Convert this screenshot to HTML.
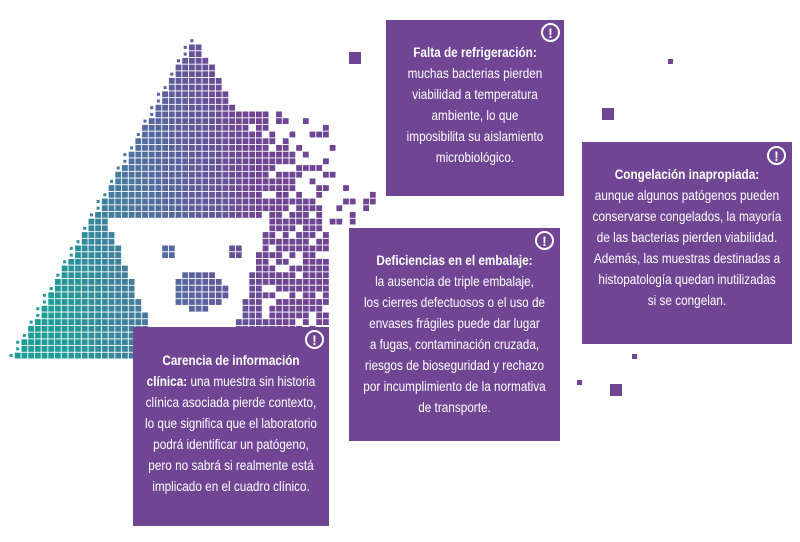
<!DOCTYPE html>
<html><head><meta charset="utf-8"><style>
html,body{margin:0;padding:0;background:#fff;}
body{width:800px;height:542px;position:relative;overflow:hidden;font-family:"Liberation Sans",sans-serif;}
#m{position:absolute;left:0;top:0;}
.b{position:absolute;background:#6f4594;color:#fff;box-sizing:border-box;}
.t{position:absolute;left:0;top:0;text-align:center;font-size:14px;line-height:21px;white-space:nowrap;transform-origin:0 0;transform:scaleX(0.84);}
.b b{font-weight:bold;}
.ex{position:absolute;width:19px;height:19px;border:2px solid #fff;border-radius:50%;box-sizing:border-box;color:#fff;font-weight:bold;font-size:14px;line-height:16px;text-align:center;}
.sq{position:absolute;background:#6f4594;}
</style></head><body>
<svg id="m" width="800" height="542" xmlns="http://www.w3.org/2000/svg"></svg>
<div class="sq" style="left:349px;top:52px;width:12px;height:12px"></div>
<div class="sq" style="left:602px;top:108px;width:12px;height:12px"></div>
<div class="sq" style="left:668px;top:59px;width:5px;height:5px"></div>
<div class="sq" style="left:610px;top:384px;width:12px;height:12px"></div>
<div class="sq" style="left:632px;top:354px;width:5px;height:5px"></div>
<div class="sq" style="left:577px;top:380px;width:5px;height:5px"></div>

<div class="b" style="left:386px;top:20px;width:178px;height:176px;"><div class="t" style="width:211.9px;top:22px"><b>Falta de refrigeración:</b><br>muchas bacterias pierden<br>viabilidad a temperatura<br>ambiente, lo que<br>imposibilita su aislamiento<br>microbiológico.</div><div class="ex" style="left:155px;top:3px">!</div></div>

<div class="b" style="left:582px;top:142px;width:210px;height:202px;"><div class="t" style="width:250px;top:22px"><b>Congelación inapropiada:</b><br>aunque algunos patógenos pueden<br>conservarse congelados, la mayoría<br>de las bacterias pierden viabilidad.<br>Además, las muestras destinadas a<br>histopatología quedan inutilizadas<br>si se congelan.</div><div class="ex" style="left:185px;top:4px">!</div></div>

<div class="b" style="left:349px;top:228px;width:211px;height:213px;"><div class="t" style="width:251.2px;top:22px"><b>Deficiencias en el embalaje:</b><br>la ausencia de triple embalaje,<br>los cierres defectuosos o el uso de<br>envases frágiles puede dar lugar<br>a fugas, contaminación cruzada,<br>riesgos de bioseguridad y rechazo<br>por incumplimiento de la normativa<br>de transporte.</div><div class="ex" style="left:186px;top:3px">!</div></div>

<div class="b" style="left:133px;top:327px;width:196px;height:199px;"><div class="t" style="width:233.3px;top:23px"><b>Carencia de información<br>clínica:</b> una muestra sin historia<br>clínica asociada pierde contexto,<br>lo que significa que el laboratorio<br>podrá identificar un patógeno,<br>pero no sabrá si realmente está<br>implicado en el cuadro clínico.</div><div class="ex" style="left:172px;top:3px">!</div></div>

<script>
(function(){
var s=document.getElementById('m'),out='';
var seed=11;function r(){seed=(seed*16807)%2147483647;return seed/2147483647;}
function col(x,y){var t=(x-60)/220+(330-y)/1200;t=Math.max(0,Math.min(1,t));
var a=[31,156,150],b=[80,112,160],c=[111,69,148],p;
if(t<0.5){var u=t/0.5;p=[a[0]+(b[0]-a[0])*u,a[1]+(b[1]-a[1])*u,a[2]+(b[2]-a[2])*u];}
else{var u=(t-0.5)/0.5;p=[b[0]+(c[0]-b[0])*u,b[1]+(c[1]-b[1])*u,b[2]+(c[2]-b[2])*u];}
return 'rgb('+p.map(Math.round).join(',')+')';}
var P=6.7;
for(var y=31;y<358;y+=P){
 var hw=(y-30)*0.567;
 for(var x=8;x<380;x+=P){
  var cx=x+3,cy=y+3,left=195-hw,right=195+hw;
  if(cx<left-2)continue;
  var inFace=false;
  if(cy>220&&cy<332){var fl=108+(cy-222)*0.4,fr=268-(cy-222)*0.3;if(cx>fl&&cx<fr)inFace=true;}
  var sz=5.8;
  if(inFace){
   var dx=(cx-200)/27,dy=(cy-290)/20;
   var e1=Math.abs(cx-166)<6&&Math.abs(cy-252)<5,e2=Math.abs(cx-233)<6&&Math.abs(cy-252)<5;
   if(dx*dx+dy*dy<1||e1||e2){}else continue;
  }
  if(cx<left+3)sz=3;
  if(cx>right-2){
   if(cy<110)continue;
   var d=cx-right; if(d>150)continue;
   var pr=0.85-d/130; if(cx>300)pr-=0.15; if(r()>pr)continue;
  }
  else if(cx>262){ if(r()<0.22)continue; }
  if(cx>330&&cy>225&&cy<445)continue;
  if(cx>383&&cy<200)continue;
  var c=col(cx,cy);
  out+='<rect x="'+(cx-sz/2).toFixed(1)+'" y="'+(cy-sz/2).toFixed(1)+'" width="'+sz+'" height="'+sz+'" fill="'+c+'"/>';
 }
}
s.innerHTML=out;
})();
</script>
</body></html>
